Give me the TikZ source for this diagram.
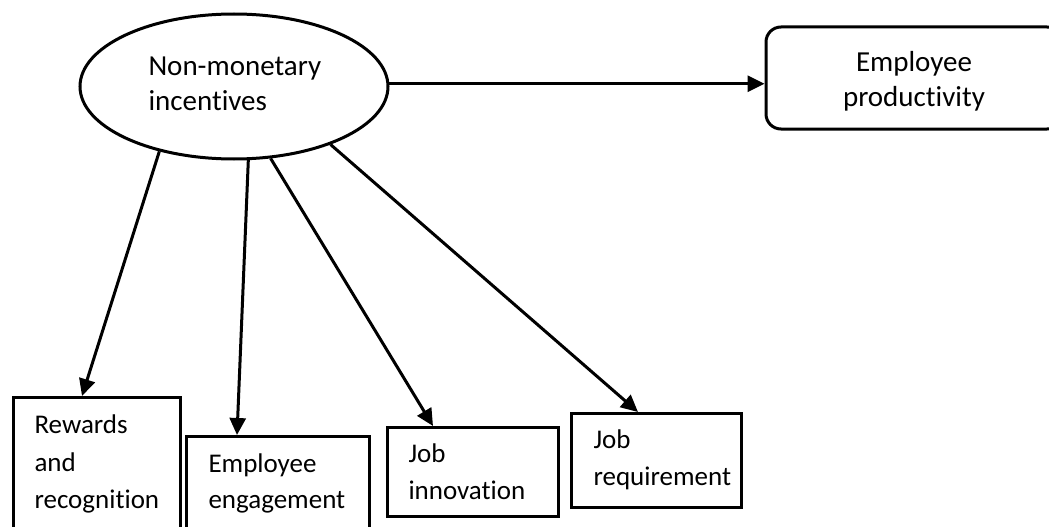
\documentclass[tikz,border=0pt]{standalone}
\usepackage{fontspec}
\setmainfont{Carlito}[Ligatures=NoCommon]
\usetikzlibrary{shapes.geometric,arrows.meta}
\begin{document}
\begin{tikzpicture}[x=1pt,y=-1pt,
  line width=3pt,
  shapeline/.style={draw=black,line width=3pt,inner sep=0pt},
  boxnode/.style={shapeline,rectangle,anchor=north west},
  lbl/.style={inner sep=0pt,anchor=base west,font=\fontsize{27}{33}\selectfont},
  biglbl/.style={lbl,font=\fontsize{29}{35}\selectfont},
  clbl/.style={biglbl,anchor=base},
  conn/.style={-{Triangle[length=17pt,width=16pt]},line width=3pt}
]
\useasboundingbox (0,0) rectangle (1049,527);
\clip (0,0) rectangle (1049,527);
\fill[white] (0,0) rectangle (1049,527);

% main nodes
\node[shapeline,ellipse,minimum width=308pt,minimum height=145pt] (e) at (234,86.5) {};
\node[shapeline,rectangle,rounded corners=15pt,minimum width=296pt,minimum height=102pt] (p) at (914,78) {};

\node[boxnode,minimum width=167pt,minimum height=160pt] (b1) at (12,396) {};
\node[boxnode,minimum width=183pt,minimum height=130pt] (b2) at (185,435) {};
\node[boxnode,minimum width=171pt,minimum height=89pt] (b3) at (386,426) {};
\node[boxnode,minimum width=170pt,minimum height=94pt] (b4) at (570,412) {};

% texts
\node[biglbl] (e1) at (147,75) {Non-monetary};
\node[biglbl] (e2) at (147,110) {incentives};
\node[clbl] (p1) at (914,71) {Employee};
\node[clbl] (p2) at (914,106.5) {productivity};
\node[lbl] (t1a) at (33,433) {Rewards};
\node[lbl] (t1b) at (33,471) {and};
\node[lbl] (t1c) at (33,508) {recognition};
\node[lbl] (t2a) at (207,472) {Employee};
\node[lbl] (t2b) at (207,508) {engagement};
\node[lbl] (t3a) at (407,462) {Job};
\node[lbl] (t3b) at (407,499) {innovation};
\node[lbl] (t4a) at (592,448) {Job};
\node[lbl] (t4b) at (592,485) {requirement};

% connectors
\draw[conn] (e.1.2) -- (e.1.2 -| p.west);
\draw[conn] (e.221.5) -- ([xshift=70pt]b1.north west);
\draw[conn] (e.281) -- ([xshift=52pt]b2.north west);
\draw[conn] (e.297) -- ([xshift=47pt]b3.north west);
\draw[conn] (e.329.5) -- ([xshift=68pt]b4.north west);
\end{tikzpicture}
\end{document}
